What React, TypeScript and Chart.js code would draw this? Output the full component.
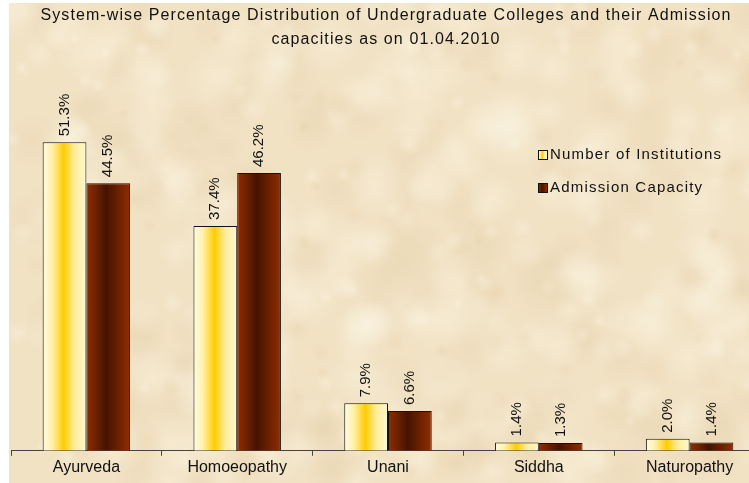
import React, { useEffect, useRef } from "react";
import { Chart, registerables } from "chart.js";

Chart.register(...registerables);

const titleLines = [
  "System-wise Percentage Distribution of Undergraduate Colleges and their Admission",
  "capacities as on 01.04.2010",
];
const categories = ["Ayurveda", "Homoeopathy", "Unani", "Siddha", "Naturopathy"];
const institutions = [51.3, 37.4, 7.9, 1.4, 2.0];
const admission = [44.5, 46.2, 6.6, 1.3, 1.4];
const seriesNames = ["Number of Institutions", "Admission Capacity"];

const FONT = "'Liberation Sans', Arial, Helvetica, sans-serif";
const CAT_PCT = 0.58;

function gradFor(ctx: CanvasRenderingContext2D, ds: number, left: number, w: number) {
  const g = ctx.createLinearGradient(left, 0, left + w, 0);
  if (ds === 0) {
    g.addColorStop(0, "#fffce6");
    g.addColorStop(0.22, "#fff0a8");
    g.addColorStop(0.48, "#ffcc00");
    g.addColorStop(0.72, "#ffec98");
    g.addColorStop(1, "#fff8d4");
  } else {
    g.addColorStop(0, "#902e00");
    g.addColorStop(0.45, "#461300");
    g.addColorStop(1, "#902e00");
  }
  return g;
}

function hash(n: number) {
  const s = Math.sin(n * 12.9898 + 78.233) * 43758.5453;
  return s - Math.floor(s);
}

const bgPlugin = {
  id: "parchment",
  beforeDraw(chart: any) {
    const { ctx, width, height } = chart;
    ctx.save();
    ctx.fillStyle = "#f1e2c4";
    ctx.fillRect(0, 0, width, height);
    for (let i = 0; i < 500; i++) {
      const x = hash(i) * width;
      const y = hash(i + 1000) * height;
      const r = 6 + hash(i + 2000) * 28;
      const dark = hash(i + 3000) > 0.55;
      const g = ctx.createRadialGradient(x, y, 0, x, y, r);
      if (dark) {
        g.addColorStop(0, "rgba(210,175,120,0.11)");
        g.addColorStop(1, "rgba(210,175,120,0)");
      } else {
        g.addColorStop(0, "rgba(255,250,236,0.3)");
        g.addColorStop(1, "rgba(255,250,236,0)");
      }
      ctx.fillStyle = g;
      ctx.fillRect(x - r, y - r, r * 2, r * 2);
    }
    ctx.restore();
  },
};

const decoPlugin = {
  id: "deco",
  afterDatasetsDraw(chart: any) {
    const { ctx } = chart;
    ctx.save();
    ctx.fillStyle = "#111";
    ctx.font = `15px ${FONT}`;
    ctx.textAlign = "left";
    ctx.textBaseline = "middle";
    chart.data.datasets.forEach((ds: any, di: number) => {
      const meta = chart.getDatasetMeta(di);
      meta.data.forEach((el: any, i: number) => {
        const v = ds.data[i];
        ctx.save();
        ctx.translate(el.x, el.y - 6);
        ctx.rotate(-Math.PI / 2);
        ctx.fillText(v.toFixed(1) + "%", 0, 0);
        ctx.restore();
      });
    });
    ctx.restore();
  },
  afterDraw(chart: any) {
    const { ctx } = chart;
    ctx.save();
    ctx.fillStyle = "#111";
    ctx.font = `16px ${FONT}`;
    (ctx as any).letterSpacing = "1.1px";
    ctx.textAlign = "center";
    ctx.textBaseline = "middle";
    ctx.fillText(titleLines[0], 377, 13);
    ctx.fillText(titleLines[1], 377, 37);
    ctx.textAlign = "left";
    ctx.font = `15px ${FONT}`;
    (ctx as any).letterSpacing = "1.2px";
    const ly = [152, 185];
    seriesNames.forEach((name, i) => {
      const sx = 529;
      const sy = ly[i] - 5;
      ctx.fillStyle = gradFor(ctx, i, sx, 9);
      ctx.fillRect(sx, sy, 9, 9);
      ctx.strokeStyle = "#111";
      ctx.lineWidth = 1;
      ctx.strokeRect(sx + 0.5, sy + 0.5, 9, 9);
      ctx.fillStyle = "#111";
      ctx.fillText(name, 541, ly[i]);
    });
    ctx.restore();
  },
};

function makeBg(di: number) {
  return (c: any) => {
    const fallback = di === 0 ? "#ffcc00" : "#6a2000";
    const chart = c.chart;
    const xs = chart && chart.scales ? chart.scales.x : null;
    if (!xs || typeof c.dataIndex !== "number") return fallback;
    const center = xs.getPixelForValue(c.dataIndex);
    const cw = xs.width / categories.length;
    const bw = (cw * CAT_PCT) / 2;
    const left = di === 0 ? center - bw : center;
    if (!isFinite(left) || !isFinite(bw) || bw <= 0) return fallback;
    return gradFor(chart.ctx, di, left, bw);
  };
}

export default function App() {
  const ref = useRef<HTMLCanvasElement>(null);
  useEffect(() => {
    if (!ref.current) return;
    const chart = new Chart(ref.current, {
      type: "bar",
      data: {
        labels: categories,
        datasets: [
          {
            label: seriesNames[0],
            data: institutions,
            backgroundColor: makeBg(0),
            borderColor: "#111",
            borderWidth: 1,
            borderSkipped: "bottom",
            categoryPercentage: CAT_PCT,
            barPercentage: 1,
          },
          {
            label: seriesNames[1],
            data: admission,
            backgroundColor: makeBg(1),
            borderColor: "#111",
            borderWidth: 1,
            borderSkipped: "bottom",
            categoryPercentage: CAT_PCT,
            barPercentage: 1,
          },
        ],
      },
      options: {
        animation: false,
        responsive: true,
        maintainAspectRatio: false,
        layout: { padding: { top: 87, left: 2, right: 2, bottom: 4 } },
        plugins: {
          legend: { display: false },
          title: { display: false },
          tooltip: { enabled: false },
        },
        scales: {
          x: {
            offset: true,
            grid: {
              offset: true,
              drawOnChartArea: false,
              drawTicks: true,
              tickLength: 5,
              color: "#444",
            },
            border: { display: true, color: "#444", width: 1 },
            ticks: {
              color: "#111",
              font: { family: FONT, size: 16 },
              padding: 2,
              maxRotation: 0,
              autoSkip: false,
            },
          },
          y: { display: false, min: 0, max: 60 },
        },
      },
      plugins: [bgPlugin, decoPlugin],
    });
    return () => chart.destroy();
  }, []);
  return (
    <div
      style={{
        position: "fixed",
        left: 0,
        top: 0,
        width: 749,
        height: 483,
        overflow: "hidden",
        background: "#fff",
      }}
    >
      <div style={{ position: "absolute", left: 9, top: 3, width: 758, height: 480 }}>
        <canvas ref={ref} />
      </div>
    </div>
  );
}
